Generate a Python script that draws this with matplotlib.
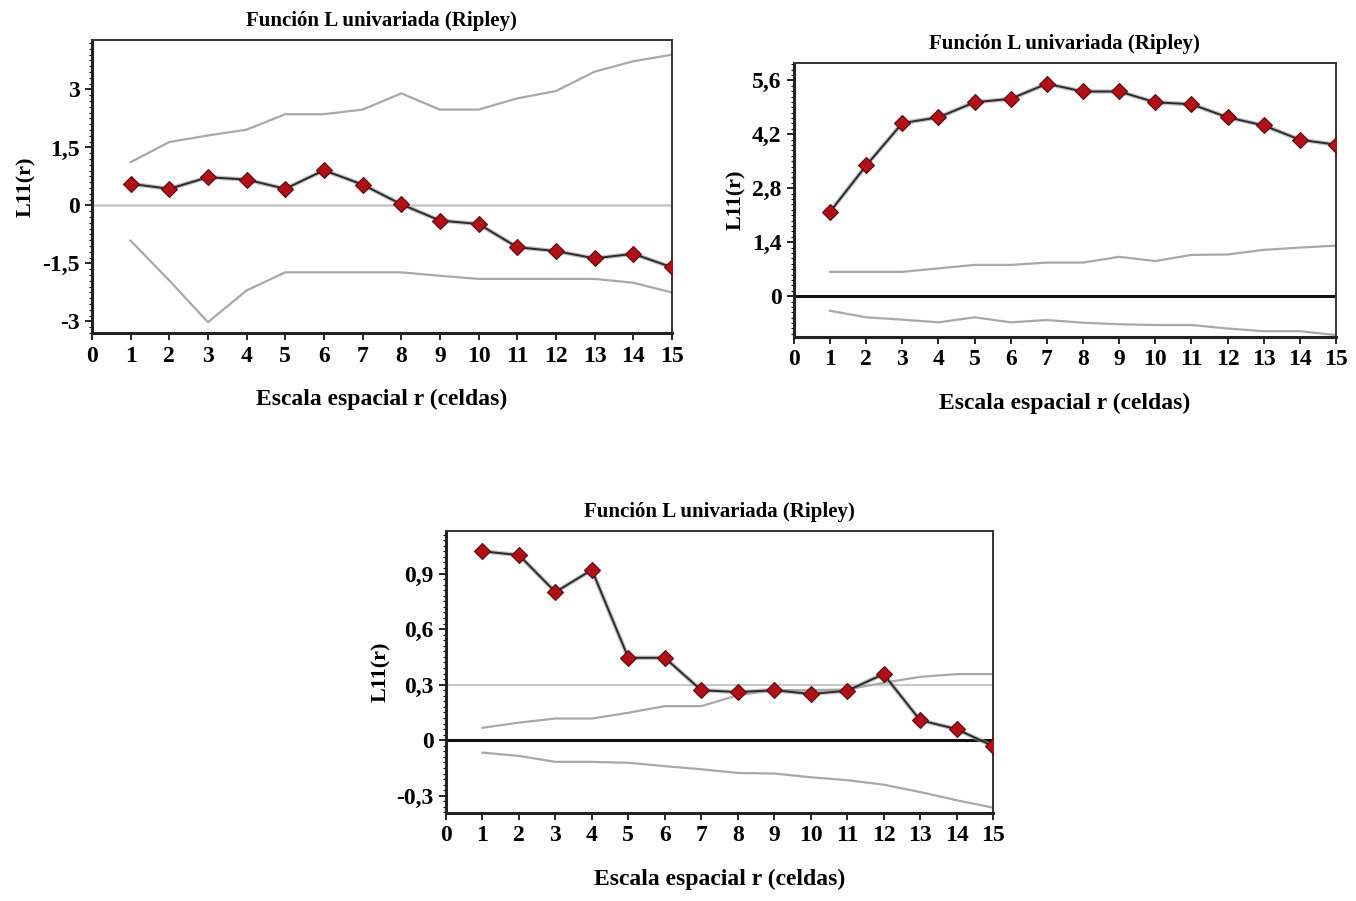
import matplotlib
matplotlib.use("Agg")
import matplotlib.pyplot as plt
from matplotlib.ticker import AutoMinorLocator, FuncFormatter

# ---------------- data ----------------
r = list(range(1, 16))

# Panel A (top-left)
obs_a = [0.56, 0.43, 0.73, 0.67, 0.43, 0.91, 0.54, 0.03, -0.39, -0.48, -1.08, -1.18, -1.37, -1.25, -1.60]
up_a = [1.12, 1.64, 1.81, 1.96, 2.36, 2.36, 2.48, 2.90, 2.48, 2.48, 2.77, 2.96, 3.46, 3.73, 3.90]
lo_a = [-0.91, -1.94, -3.02, -2.20, -1.73, -1.73, -1.73, -1.73, -1.82, -1.90, -1.90, -1.90, -1.90, -2.00, -2.25]
yt_a = [-3, -1.5, 0, 1.5, 3]

# Panel B (top-right)
obs_b = [2.19, 3.39, 4.49, 4.64, 5.03, 5.12, 5.51, 5.31, 5.31, 5.03, 4.98, 4.64, 4.43, 4.06, 3.93]
up_b = [0.63, 0.63, 0.63, 0.72, 0.81, 0.81, 0.87, 0.87, 1.02, 0.91, 1.07, 1.08, 1.20, 1.26, 1.31]
lo_b = [-0.38, -0.55, -0.61, -0.68, -0.55, -0.68, -0.62, -0.69, -0.73, -0.75, -0.75, -0.84, -0.91, -0.91, -1.01]
yt_b = [0, 1.4, 2.8, 4.2, 5.6]

# Panel C (bottom)
obs_c = [1.02, 1.00, 0.80, 0.92, 0.445, 0.445, 0.27, 0.26, 0.27, 0.25, 0.267, 0.357, 0.108, 0.06, -0.032]
up_c = [0.067, 0.095, 0.117, 0.117, 0.148, 0.184, 0.184, 0.243, 0.27, 0.27, 0.274, 0.31, 0.342, 0.357, 0.357]
lo_c = [-0.067, -0.085, -0.117, -0.117, -0.122, -0.14, -0.157, -0.177, -0.18, -0.20, -0.216, -0.24, -0.28, -0.324, -0.364]
yt_c = [-0.3, 0, 0.3, 0.6, 0.9]

xt = list(range(0, 16))
title = "Función L univariada (Ripley)"
xlabel = "Escala espacial r (celdas)"
ylabel = "L11(r)"

FONT = "Liberation Serif"


def fmt(v, pos):
    s = ("%g" % v).replace(".", ",")
    return s


fig = plt.figure(figsize=(13.56, 9.01), dpi=100)
fig.patch.set_facecolor("white")


def panel(rect, obs, up, lo, yt, ylim, zero_style, ref=None):
    ax = fig.add_axes(rect)
    ax.set_xlim(0, 15)
    ax.set_ylim(*ylim)
    if ref is not None:
        ax.axhline(ref, color="#c8c8c8", lw=1.5, zorder=1)
    if zero_style == "light":
        ax.axhline(0, color="#c8c8c8", lw=1.8, zorder=1)
    else:
        ax.axhline(0, color="#111111", lw=2.2, zorder=1)
    ax.plot(r, up, color="#a8a8a8", lw=1.6, zorder=2)
    ax.plot(r, lo, color="#a8a8a8", lw=1.6, zorder=2)
    ax.plot(r, obs, color="#9a9a9a", lw=3.2, zorder=3, alpha=0.6)
    ax.plot(r, obs, color="#2a2a2a", lw=1.4, zorder=4,
            marker="D", markersize=8.5, markerfacecolor="#b01018",
            markeredgecolor="#5a0a0a", markeredgewidth=0.8)
    ax.set_xticks(xt)
    ax.set_yticks(yt)
    ax.yaxis.set_major_formatter(FuncFormatter(fmt))
    ax.yaxis.set_minor_locator(AutoMinorLocator(10))
    ax.tick_params(axis="both", which="major", direction="out", length=5, width=1.2,
                   labelsize=17, pad=4)
    ax.tick_params(axis="y", which="minor", direction="out", length=2.5, width=0.8)
    for lab in ax.get_xticklabels() + ax.get_yticklabels():
        lab.set_fontfamily(FONT)
        lab.set_fontweight("bold")
    for s in ["left", "bottom"]:
        ax.spines[s].set_linewidth(2.2)
        ax.spines[s].set_color("#222222")
    for s in ["top", "right"]:
        ax.spines[s].set_linewidth(1.4)
        ax.spines[s].set_color("#333333")
    ax.set_title(title, fontfamily=FONT, fontweight="bold", fontsize=15, pad=10)
    ax.set_xlabel(xlabel, fontfamily=FONT, fontweight="bold", fontsize=17, labelpad=16)
    ax.set_ylabel(ylabel, fontfamily=FONT, fontweight="bold", fontsize=16, labelpad=4)
    return ax


panel([0.0678, 0.6304, 0.4277, 0.3252], obs_a, up_a, lo_a, yt_a, (-3.3, 4.28), "light")
panel([0.5855, 0.626, 0.3997, 0.3041], obs_b, up_b, lo_b, yt_b, (-1.06, 6.05), "dark")
panel([0.3289, 0.0977, 0.4034, 0.313], obs_c, up_c, lo_c, yt_c, (-0.393, 1.13), "dark", ref=0.3)

fig.savefig("out.png", dpi=100, facecolor="white")
